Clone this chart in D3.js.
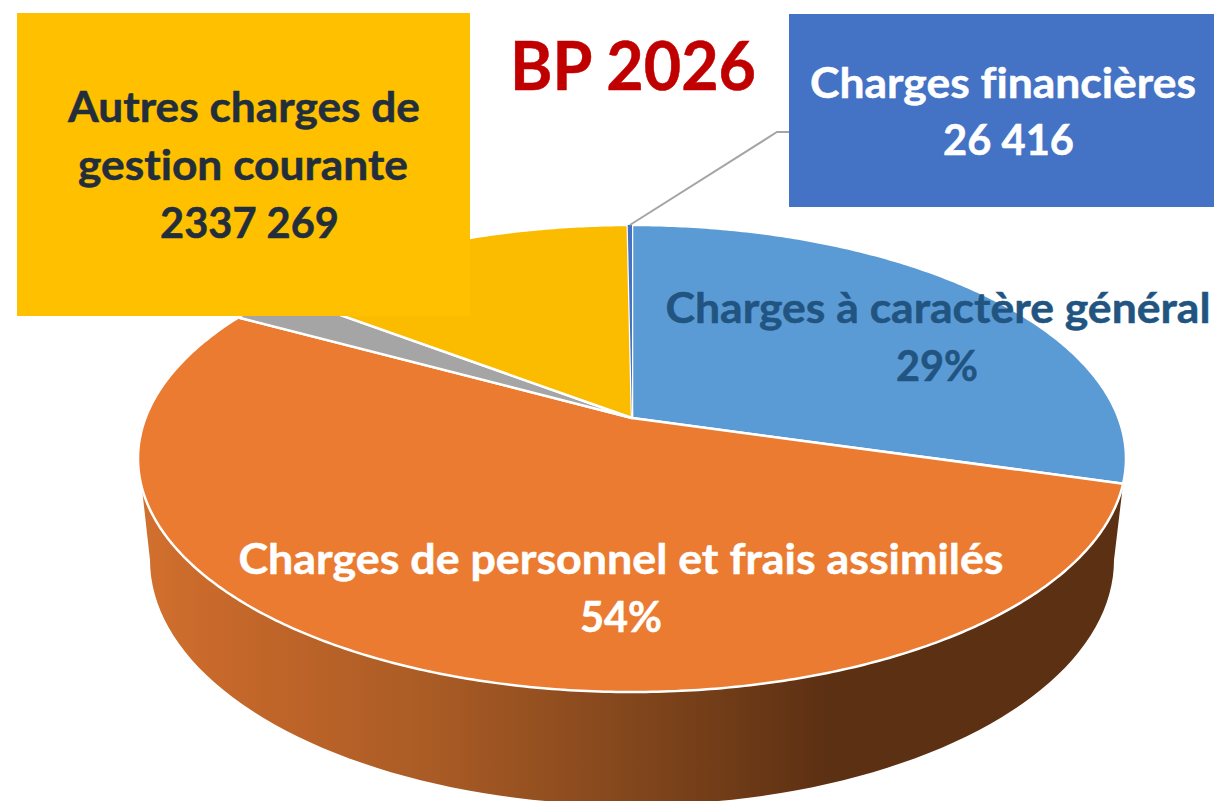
<!DOCTYPE html>
<html>
<head>
<meta charset="utf-8">
<script src="https://cdn.jsdelivr.net/npm/d3@7"></script>
<style>
  html, body { margin: 0; padding: 0; background: #fff; overflow: hidden; }
  svg { display: block; }
  text { font-family: Lato, "Open Sans", sans-serif; font-weight: 700; text-anchor: middle; font-variant-ligatures: none; }
</style>
</head>
<body>
<script>
// values (only 2337 269 and 26 416 are printed on it)
var categories = ['Charges à caractère général', 'Charges de personnel et frais assimilés', 'Autres', 'Autres charges de gestion courante', 'Charges financières'];
var values = [4745000, 8625000, 377000, 2337269, 26416];
var colors = ['#5B9BD5', '#EA7B30', '#A5A5A5', '#FBBC00', '#4472C4'];

var width = 1214, height = 801;

// tilted disc: perspective of a unit circle, apex is off the ellipse centre
var apex = [632, 418], persp = 0.1734, rimX = 486.5, rimY = 226.5;
// lower edge of the wall, plain ellipse
var base = { cx: 632, cy: 560, rx: 482, ry: 245 };
// where the wall leaves the rim on the left side
var wallLeft = 253 * Math.PI / 180;

function project(a) {
  var u = Math.sin(a), v = -Math.cos(a), w = 1 - persp * v;
  return [apex[0] + rimX * u / w, apex[1] + rimY * v / w];
}

function rimPoints(a0, a1) {
  var n = Math.max(2, Math.ceil(Math.abs(a1 - a0) / 0.01));
  return d3.range(n + 1).map(function(i) { return project(a0 + (a1 - a0) * i / n); });
}

var svg = d3.select('body').append('svg').attr('width', width).attr('height', height);
var line = d3.line();

var pie = d3.pie().sort(null).value(function(d) { return d; });
var arcs = pie(values);
var total = d3.sum(values);
var pct = d3.format('.0%');

// wall gradient
var grad = svg.append('defs').append('linearGradient').attr('id', 'wall')
  .attr('gradientUnits', 'userSpaceOnUse')
  .attr('x1', 140).attr('x2', 1126).attr('y1', 0).attr('y2', 0);
[[0, '#D2702E'], [0.1, '#C4672A'], [0.3, '#A95B25'], [0.5, '#82461C'], [0.7, '#5C3013'], [1, '#5C3013']].forEach(function(s) {
  grad.append('stop').attr('offset', s[0]).attr('stop-color', s[1]);
});

// wall: lower ellipse from right to left, back along the top rim
var orange = arcs[1];
var lower = d3.range(0, 181, 2).map(function(deg) {
  var t = deg * Math.PI / 180;
  return [base.cx + base.rx * Math.cos(t), base.cy + base.ry * Math.sin(t)];
});
var upper = rimPoints(wallLeft, orange.startAngle);
svg.append('path')
  .attr('d', line(lower.concat(upper)) + 'Z')
  .attr('fill', 'url(#wall)');

// slices
svg.selectAll('path.slice').data(arcs).enter().append('path')
  .attr('class', 'slice')
  .attr('d', function(d) { return line([apex].concat(rimPoints(d.startAngle, d.endAngle))) + 'Z'; })
  .attr('fill', function(d, i) { return colors[i]; })
  .attr('stroke', function(d) { return d.value / total < 0.01 ? 'none' : '#fff'; })
  .attr('stroke-width', 2.5)
  .attr('stroke-linejoin', 'round');

function label(txt, x, y, size, color, len) {
  var t = svg.append('text').attr('x', x).attr('y', y)
    .attr('font-size', size).attr('fill', color)
    .attr('stroke', color).attr('stroke-width', 0.5).text(txt);
  if (len) t.attr('textLength', len).attr('lengthAdjust', 'spacingAndGlyphs');
}

// data labels on the slices
label(categories[0], 938, 323, 42, '#215480', 545);
label(pct(values[0] / total), 937, 381, 42, '#215480', 82);
label(categories[1], 621, 574, 42, '#fff', 765);
label(pct(values[1] / total), 621, 632, 42, '#fff', 82);

// leader line of the small slice
var fin = arcs[4];
svg.append('path')
  .attr('d', line([project((fin.startAngle + fin.endAngle) / 2), [777, 132], [789, 132]]))
  .attr('fill', 'none').attr('stroke', '#A5A5A5').attr('stroke-width', 2);

// callouts
svg.append('rect').attr('x', 17).attr('y', 13).attr('width', 453).attr('height', 303).attr('fill', '#FFC000');
label('Autres charges de', 244, 122, 42, '#222E3C', 352);
label('gestion courante', 243, 180, 42, '#222E3C', 330);
label('2337 269', 249.5, 238, 42, '#222E3C', 179);

svg.append('rect').attr('x', 789).attr('y', 14).attr('width', 425).attr('height', 193).attr('fill', '#4472C4');
label(categories[4], 1003, 98, 42, '#fff', 386);
label('26 416', 1008.5, 155, 42, '#fff', 131);

// title
label('BP 2026', 633, 90, 66, '#C00000', 246);
</script>
</body>
</html>
